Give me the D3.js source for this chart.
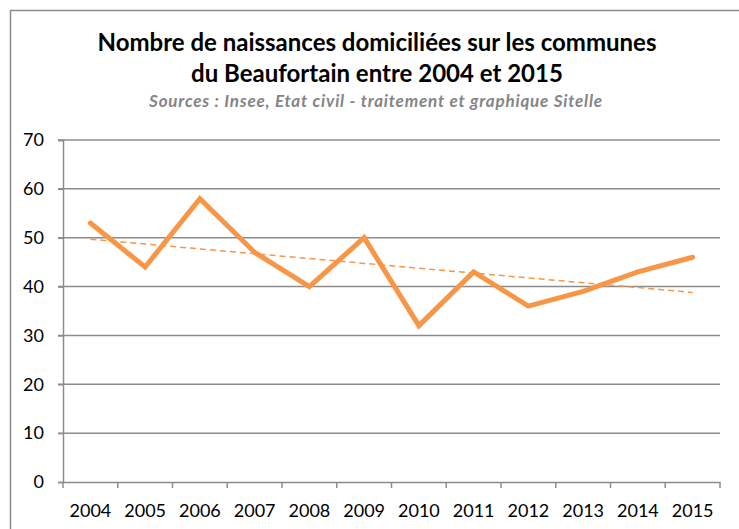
<!DOCTYPE html>
<html>
<head>
<meta charset="utf-8">
<script src="https://cdn.jsdelivr.net/npm/d3@7"></script>
<style>
  body { margin: 0; background: #fff; }
  svg { display: block; font-family: Lato, "Open Sans", sans-serif; }
</style>
</head>
<body>
<div id="chart"></div>
<script>
// data
const years = ["2004", "2005", "2006", "2007", "2008", "2009", "2010", "2011", "2012", "2013", "2014", "2015"];
const births = [53, 44, 58, 47, 40, 50, 32, 43, 36, 39, 43, 46];
const yTicks = [0, 10, 20, 30, 40, 50, 60, 70];
const titleLines = ["Nombre de naissances domiciliées sur les communes", "du Beaufortain entre 2004 et 2015"];
const subtitle = "Sources : Insee, Etat civil - traitement et graphique Sitelle";

const W = 739, H = 529;
const margin = { top: 140, right: 19, bottom: 47, left: 63 };
const width = W - margin.left - margin.right;
const height = H - margin.top - margin.bottom;

const svg = d3.select("#chart").append("svg")
    .attr("width", W)
    .attr("height", H);

// chart frame
svg.append("rect")
    .attr("x", 10.5).attr("y", 10.5)
    .attr("width", W).attr("height", H)
    .attr("fill", "none")
    .attr("stroke", "#8c8c8c")
    .attr("stroke-width", 1.5);

// titles
svg.selectAll(".title")
    .data(titleLines)
    .join("text")
    .attr("class", "title")
    .attr("x", 377)
    .attr("y", (d, i) => 51 + i * 31)
    .attr("text-anchor", "middle")
    .attr("font-size", 24)
    .attr("font-weight", "bold")
    .attr("fill", "#000")
    .text(d => d);

svg.append("text")
    .attr("x", 376)
    .attr("y", 107)
    .attr("text-anchor", "middle")
    .attr("font-size", 17)
    .attr("letter-spacing", 0.8)
    .attr("font-weight", "bold")
    .attr("font-style", "italic")
    .attr("fill", "#858585")
    .text(subtitle);

const g = svg.append("g")
    .attr("transform", `translate(${margin.left},${margin.top})`);

const x = d3.scaleBand()
    .domain(years)
    .range([0, width]);

const y = d3.scaleLinear()
    .domain([0, 70])
    .range([height, 0]);

// gridlines
g.selectAll(".grid")
    .data(yTicks.filter(d => d > 0))
    .join("line")
    .attr("class", "grid")
    .attr("x1", -5).attr("x2", width)
    .attr("y1", d => y(d)).attr("y2", d => y(d))
    .attr("stroke", "#8c8c8c")
    .attr("stroke-width", 1.5);

// y axis
const yAxis = g.append("g")
    .call(d3.axisLeft(y).tickValues(yTicks).tickSize(5).tickPadding(14));
yAxis.select(".domain").attr("stroke", "#8c8c8c").attr("stroke-width", 1.5);
yAxis.selectAll(".tick line").attr("stroke", "#8c8c8c").attr("stroke-width", 1.5);
yAxis.selectAll("text").attr("font-size", 18).attr("font-family", "Lato").attr("fill", "#000");

// x axis, ticks on the band edges
const xAxis = g.append("g")
    .attr("transform", `translate(0,${height})`)
    .call(d3.axisBottom(x).tickSize(0).tickPadding(22));
xAxis.select(".domain").attr("stroke", "#8c8c8c").attr("stroke-width", 1.5);
xAxis.selectAll("text").attr("font-size", 18).attr("font-family", "Lato").attr("fill", "#000");
xAxis.selectAll(".edge")
    .data(years.concat(["end"]))
    .join("line")
    .attr("class", "edge")
    .attr("x1", (d, i) => i < years.length ? x(d) : width)
    .attr("x2", (d, i) => i < years.length ? x(d) : width)
    .attr("y1", 0).attr("y2", 6)
    .attr("stroke", "#8c8c8c")
    .attr("stroke-width", 1.5);

// linear trend (least squares over the series)
const idx = births.map((d, i) => i);
const mx = d3.mean(idx), my = d3.mean(births);
const slope = d3.sum(idx, i => (i - mx) * (births[i] - my)) / d3.sum(idx, i => (i - mx) ** 2);
const trend = idx.map(i => my + slope * (i - mx));

const cx = d => x(d) + x.bandwidth() / 2;

g.append("path")
    .datum(years.map((d, i) => [cx(d), y(trend[i])]))
    .attr("d", d3.line())
    .attr("fill", "none")
    .attr("stroke", "#f79646")
    .attr("stroke-width", 1.5)
    .attr("stroke-dasharray", "6,4");

g.append("path")
    .datum(years.map((d, i) => [cx(d), y(births[i])]))
    .attr("d", d3.line())
    .attr("fill", "none")
    .attr("stroke", "#f79646")
    .attr("stroke-width", 5)
    .attr("stroke-linejoin", "miter")
    .attr("stroke-linecap", "round");
</script>
</body>
</html>
